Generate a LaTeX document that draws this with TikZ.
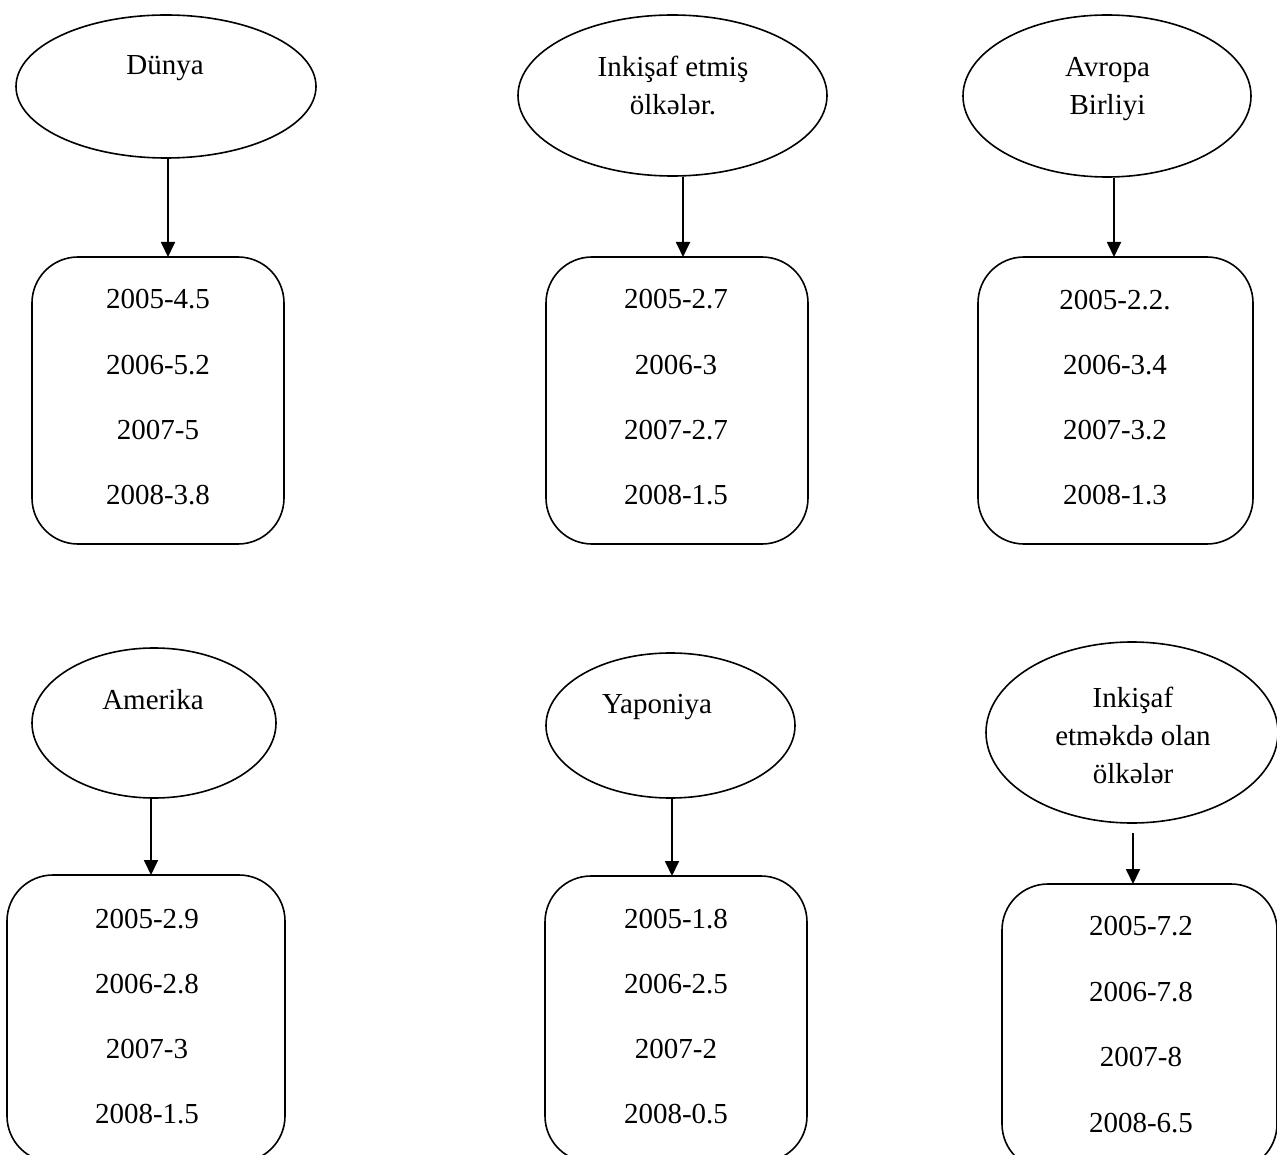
\documentclass[tikz,border=0pt]{standalone}
\usepackage{fontspec}
\setmainfont{Liberation Serif}
\usetikzlibrary{shapes.geometric,arrows.meta}
\tikzset{
  oval/.style={draw, line width=1.6pt, ellipse, inner sep=0pt},
  databox/.style={draw, line width=1.6pt, rectangle, rounded corners=46pt, inner sep=0pt},
  txt/.style={anchor=base, inner sep=0pt, font=\fontsize{29}{34}\selectfont},
  arr/.style={line width=1.8pt, -{Triangle[length=15pt,width=14pt]}}
}
\begin{document}
\begin{tikzpicture}[x=1pt,y=-1pt]
\useasboundingbox (0,0) rectangle (1277,1155);
\clip (0,0) rectangle (1277,1155);
% ellipses
\node[oval, minimum width=300pt, minimum height=143pt] (e1) at (166,86.5) {};
\node[oval, minimum width=309pt, minimum height=161pt] (e2) at (672.5,95.5) {};
\node[oval, minimum width=288pt, minimum height=162pt] (e3) at (1107,96) {};
\node[oval, minimum width=244pt, minimum height=150pt] (e4) at (154,723) {};
\node[oval, minimum width=249pt, minimum height=145pt] (e5) at (670.5,725.5) {};
\node[oval, minimum width=292pt, minimum height=181pt] (e6) at (1132,732.5) {};
% boxes
\node[databox, minimum width=252pt, minimum height=287pt] (b1) at (158,400.5) {};
\node[databox, minimum width=262pt, minimum height=287pt] (b2) at (677,400.5) {};
\node[databox, minimum width=275pt, minimum height=287pt] (b3) at (1115.5,400.5) {};
\node[databox, minimum width=278pt, minimum height=287pt] (b4) at (146,1018.5) {};
\node[databox, minimum width=262pt, minimum height=286pt] (b5) at (676,1019) {};
\node[databox, minimum width=275pt, minimum height=286pt] (b6) at (1139.5,1027) {};
% ellipse texts
\node[txt] (t1) at (165,75) {Dünya};
\node[txt] (t2a) at (673,77) {Inkişaf etmiş};
\node[txt] (t2b) at (673,115) {ölkələr.};
\node[txt] (t3a) at (1107.5,77) {Avropa};
\node[txt] (t3b) at (1107.5,115) {Birliyi};
\node[txt] (t4) at (153,709) {Amerika};
\node[txt] (t5) at (657,713) {Yaponiya};
\node[txt] (t6a) at (1133,707) {Inkişaf};
\node[txt] (t6b) at (1133,745) {etməkdə olan};
\node[txt] (t6c) at (1133,783) {ölkələr};
% box texts
\node[txt] (v11) at (158,309) {2005-4.5};
\node[txt] (v12) at (158,374) {2006-5.2};
\node[txt] (v13) at (158,439) {2007-5};
\node[txt] (v14) at (158,504) {2008-3.8};
\node[txt] (v21) at (676,309) {2005-2.7};
\node[txt] (v22) at (676,374) {2006-3};
\node[txt] (v23) at (676,439) {2007-2.7};
\node[txt] (v24) at (676,504) {2008-1.5};
\node[txt] (v31) at (1115,310) {2005-2.2.};
\node[txt] (v32) at (1115,374) {2006-3.4};
\node[txt] (v33) at (1115,439) {2007-3.2};
\node[txt] (v34) at (1115,504) {2008-1.3};
\node[txt] (v41) at (147,928) {2005-2.9};
\node[txt] (v42) at (147,993) {2006-2.8};
\node[txt] (v43) at (147,1058) {2007-3};
\node[txt] (v44) at (147,1123) {2008-1.5};
\node[txt] (v51) at (676,928) {2005-1.8};
\node[txt] (v52) at (676,993) {2006-2.5};
\node[txt] (v53) at (676,1058) {2007-2};
\node[txt] (v54) at (676,1123) {2008-0.5};
\node[txt] (v61) at (1141,935) {2005-7.2};
\node[txt] (v62) at (1141,1001) {2006-7.8};
\node[txt] (v63) at (1141,1066) {2007-8};
\node[txt] (v64) at (1141,1132) {2008-6.5};
% arrow targets
\coordinate (a1) at (168,257);
\coordinate (a2) at (683,257);
\coordinate (a3) at (1114,257);
\coordinate (a4) at (151,875);
\coordinate (a5) at (672,876);
\coordinate (a6) at (1133,884);
\coordinate (s6) at (1133,833);
\draw[arr] (e1.south -| a1) -- (a1);
\draw[arr] (e2.south -| a2) -- (a2);
\draw[arr] (e3.south -| a3) -- (a3);
\draw[arr] (e4.south -| a4) -- (a4);
\draw[arr] (e5.south -| a5) -- (a5);
\draw[arr] (s6) -- (a6);
\end{tikzpicture}
\end{document}
